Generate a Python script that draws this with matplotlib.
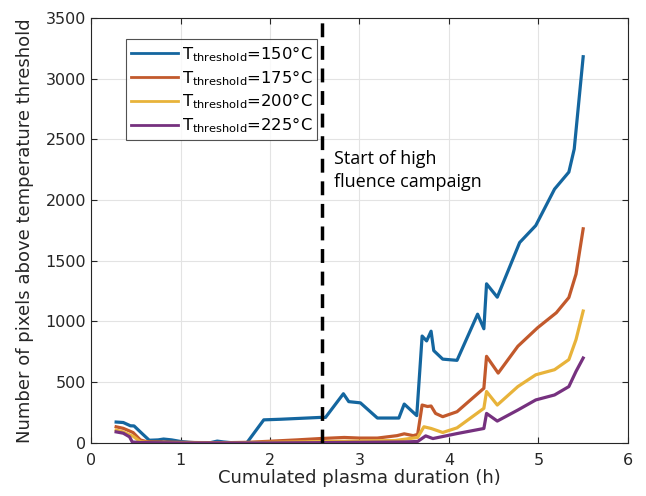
import matplotlib
matplotlib.use("Agg")
import matplotlib.pyplot as plt

# cumulated plasma duration (h) and pixel counts for each threshold
x150 = [0.28, 0.36, 0.44, 0.48, 0.57, 0.65, 0.75, 0.81, 0.90, 1.00, 1.10, 1.22, 1.32,
        1.41, 1.48, 1.60, 1.74, 1.93, 2.12, 2.56, 2.62, 2.82, 2.88, 3.01, 3.20, 3.44,
        3.50, 3.64, 3.70, 3.75, 3.80, 3.83, 3.93, 4.09, 4.32, 4.39, 4.42, 4.54, 4.79,
        4.97, 5.18, 5.34, 5.40, 5.50]
y150 = [172, 168, 141, 140, 77, 22, 25, 32, 25, 12, 5, 0, 0,
        15, 8, 0, 0, 190, 195, 210, 210, 405, 340, 330, 205, 205,
        320, 225, 880, 840, 920, 760, 690, 680, 1060, 940, 1310, 1200, 1650,
        1790, 2090, 2230, 2420, 3180]

x175 = [0.28, 0.36, 0.44, 0.47, 0.55, 0.62, 0.80, 1.00, 1.20, 1.50, 1.75, 2.00, 2.30,
        2.56, 2.83, 3.00, 3.20, 3.42, 3.50, 3.60, 3.65, 3.70, 3.76, 3.80, 3.85, 3.93,
        4.09, 4.39, 4.42, 4.55, 4.77, 4.99, 5.20, 5.34, 5.42, 5.50]
y175 = [133, 120, 95, 85, 25, 10, 8, 5, 3, 2, 5, 14, 25,
        36, 45, 40, 40, 60, 75, 60, 70, 312, 300, 304, 243, 216,
        257, 450, 713, 575, 796, 948, 1072, 1197, 1390, 1763]

x200 = [0.28, 0.36, 0.44, 0.47, 0.55, 0.65, 1.00, 1.50, 2.00, 2.50, 3.00, 3.40, 3.50,
        3.65, 3.72, 3.80, 3.93, 4.09, 4.39, 4.42, 4.54, 4.77, 4.97, 5.18, 5.34, 5.42, 5.50]
y200 = [105, 90, 63, 55, 10, 3, 2, 0, 5, 10, 15, 20, 30,
        45, 133, 119, 86, 124, 285, 423, 312, 464, 561, 603, 686, 851, 1086]

x225 = [0.28, 0.36, 0.43, 0.46, 0.55, 1.00, 1.50, 2.00, 2.50, 3.00, 3.50, 3.65, 3.74,
        3.82, 4.09, 4.39, 4.42, 4.54, 4.77, 4.97, 5.18, 5.34, 5.42, 5.50]
y225 = [91, 80, 50, 8, 3, 0, 0, 0, 2, 5, 8, 12, 58,
        36, 77, 119, 243, 180, 271, 354, 395, 464, 589, 699]

campaign_start = 2.58

labels = [r'T$_{\mathrm{threshold}}$=150°C', r'T$_{\mathrm{threshold}}$=175°C',
          r'T$_{\mathrm{threshold}}$=200°C', r'T$_{\mathrm{threshold}}$=225°C']
colors = ['#14669f', '#c2592c', '#e8b33a', '#76317f']

plt.rcParams['font.family'] = ['DejaVu Sans']
plt.rcParams['mathtext.default'] = 'regular'

fig = plt.figure(figsize=(6.46, 4.96), dpi=100)
ax = fig.add_axes([0.141, 0.107, 0.831, 0.857])

series = [(x150, y150), (x175, y175), (x200, y200), (x225, y225)]
for (x, y), lab, c in zip(series, labels, colors):
    ax.plot(x, y, '-', color=c, lw=2.3, label=lab)

ax.axvline(campaign_start, color='black', lw=2.5, ls=(0, (4, 2.5)))
ax.text(2.71, 2410, 'Start of high\nfluence campaign', fontsize=13,
        family=['Open Sans', 'DejaVu Sans'], va='top', ha='left', linespacing=1.35)

ax.set_xlim(0, 6)
ax.set_ylim(0, 3500)
ax.set_xticks(range(0, 7))
ax.set_yticks(range(0, 3501, 500))
ax.grid(True, color='#e3e3e3', lw=0.8)
ax.set_axisbelow(True)
ax.tick_params(direction='in', top=True, right=True, labelsize=11.5,
               colors='#262626', length=4)
ax.tick_params(axis='x', pad=7)
for s in ax.spines.values():
    s.set_color('#262626')
    s.set_linewidth(0.8)

ax.set_xlabel('Cumulated plasma duration (h)', fontsize=13, color='#262626', labelpad=1)
ax.set_ylabel('Number of pixels above temperature threshold', fontsize=13,
              color='#262626', labelpad=8)

leg = ax.legend(loc='upper left', bbox_to_anchor=(0.065, 0.95), borderaxespad=0,
                fancybox=False, edgecolor='#262626', fontsize=11.8, handlelength=2.9,
                handletextpad=0.2, labelspacing=0.25, borderpad=0.3)
leg.get_frame().set_linewidth(0.8)
for ln in leg.get_lines():
    ln.set_linewidth(2.0)

fig.savefig('out.png', dpi=100)
